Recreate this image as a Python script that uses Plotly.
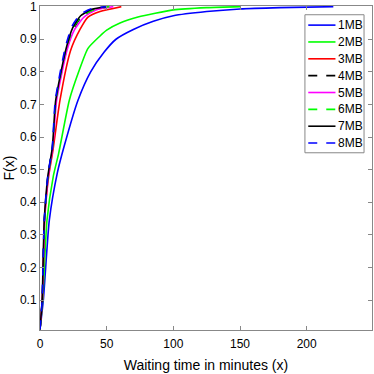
import plotly.graph_objects as go

# waiting time (minutes) and CDF values
x_1mb = [0, 2.5, 7, 13, 18, 28.5, 38, 48, 57, 70, 85, 100, 125, 150, 180, 220]
y_1mb = [0.01, 0.10, 0.345, 0.49, 0.57, 0.713, 0.80, 0.86, 0.90, 0.93, 0.955, 0.972, 0.985, 0.993, 0.997, 1.0]

x_2mb = [0, 2, 5.25, 10, 14, 22, 29, 36, 45, 50, 60, 73.5, 100, 125, 150]
y_2mb = [0.01, 0.10, 0.345, 0.48, 0.55, 0.713, 0.80, 0.872, 0.91, 0.928, 0.95, 0.968, 0.99, 0.997, 1.0]

x_3mb = [0, 1.8, 3.5, 6.5, 9.75, 15, 23, 30, 36, 45, 61]
y_3mb = [0.01, 0.10, 0.345, 0.48, 0.56, 0.713, 0.866, 0.93, 0.968, 0.985, 1.0]

x_4mb = [0, 1.7, 3.3, 6, 9.5, 12, 20, 25, 31, 40, 52]
y_4mb = [0.01, 0.10, 0.345, 0.48, 0.57, 0.713, 0.87, 0.93, 0.968, 0.99, 1.0]

x_5mb = [0, 1.7, 3.4, 6.2, 9.6, 12.5, 20.5, 26, 33, 42, 55]
y_5mb = [0.01, 0.10, 0.345, 0.48, 0.57, 0.713, 0.87, 0.93, 0.968, 0.99, 1.0]

x_6mb = [0, 1.7, 3.3, 6, 9.4, 12, 19.5, 25, 31, 40, 52]
y_6mb = [0.01, 0.10, 0.345, 0.48, 0.57, 0.713, 0.87, 0.935, 0.97, 0.99, 1.0]

x_7mb = [0, 1.6, 3.2, 5.9, 9.3, 11.8, 19.5, 24.5, 30.5, 39, 50]
y_7mb = [0.01, 0.10, 0.345, 0.48, 0.57, 0.713, 0.87, 0.935, 0.972, 0.992, 1.0]

x_8mb = [0, 1.6, 3.2, 5.8, 9.2, 11.5, 19, 24, 30, 38, 50]
y_8mb = [0.01, 0.10, 0.345, 0.48, 0.57, 0.713, 0.875, 0.94, 0.975, 0.993, 1.0]

series = [
    ("1MB", x_1mb, y_1mb, "#0000ff", "solid"),
    ("2MB", x_2mb, y_2mb, "#00ff00", "solid"),
    ("3MB", x_3mb, y_3mb, "#ff0000", "solid"),
    ("4MB", x_4mb, y_4mb, "#000000", "dash"),
    ("5MB", x_5mb, y_5mb, "#ff00ff", "solid"),
    ("6MB", x_6mb, y_6mb, "#00ff00", "dash"),
    ("7MB", x_7mb, y_7mb, "#000000", "solid"),
    ("8MB", x_8mb, y_8mb, "#0000ff", "dash"),
]

x_ticks = [0, 50, 100, 150, 200]
y_ticks = [0.1, 0.2, 0.3, 0.4, 0.5, 0.6, 0.7, 0.8, 0.9, 1.0]
y_labels = ["0.1", "0.2", "0.3", "0.4", "0.5", "0.6", "0.7", "0.8", "0.9", "1"]

fig = go.Figure()
for name, xs, ys, col, dash in series:
    fig.add_trace(go.Scatter(x=xs, y=ys, mode="lines", name=name, showlegend=False,
                             line=dict(color=col, width=1.6, dash=dash, shape="spline", smoothing=0.6)))

# matlab-style legend box drawn in paper coordinates (plotly rows are too tall)
box_x0, box_x1 = 0.798, 0.976
box_y0, box_y1 = 0.547, 0.973
row_top = 0.941
row_step = 0.052
fig.add_shape(type="rect", xref="paper", yref="paper", x0=box_x0, x1=box_x1, y0=box_y0, y1=box_y1,
              line=dict(color="#888888", width=1), fillcolor="white", layer="above")
for i, (name, xs, ys, col, dash) in enumerate(series):
    yy = row_top - i * row_step
    fig.add_shape(type="line", xref="paper", yref="paper", x0=0.808, x1=0.89, y0=yy, y1=yy,
                  line=dict(color=col, width=1.6, dash=dash), layer="above")
    fig.add_annotation(xref="paper", yref="paper", x=0.893, y=yy, text=name, showarrow=False,
                       xanchor="left", yanchor="middle", font=dict(size=12, color="black"))

font = dict(family="Liberation Sans, Arial, sans-serif", size=12, color="black")

fig.update_layout(
    width=374, height=374,
    margin=dict(l=40, r=2, t=6, b=44),
    paper_bgcolor="white", plot_bgcolor="white",
    font=font,
    showlegend=False,
    xaxis=dict(range=[0, 249], tickvals=x_ticks, ticks="inside", ticklen=4,
               tickcolor="#888888", showline=True, linecolor="#888888", linewidth=1,
               mirror="ticks", showgrid=False, zeroline=False, automargin=False,
               tickfont=dict(size=12), ticklabelstandoff=3,
               title=dict(text="Waiting time in minutes (x)", standoff=9, font=dict(size=14))),
    yaxis=dict(range=[0.008, 1.002], tickvals=y_ticks, ticktext=y_labels, ticks="inside",
               ticklen=4, tickcolor="#888888", showline=True, linecolor="#888888",
               linewidth=1, mirror="ticks", showgrid=False, zeroline=False, automargin=False,
               ticklabeloverflow="allow", tickfont=dict(size=12),
               title=dict(text="F(x)", standoff=2, font=dict(size=14))),
)

fig.write_html("out.html", config={"displayModeBar": False},
               post_script="document.body.style.margin='0';")
